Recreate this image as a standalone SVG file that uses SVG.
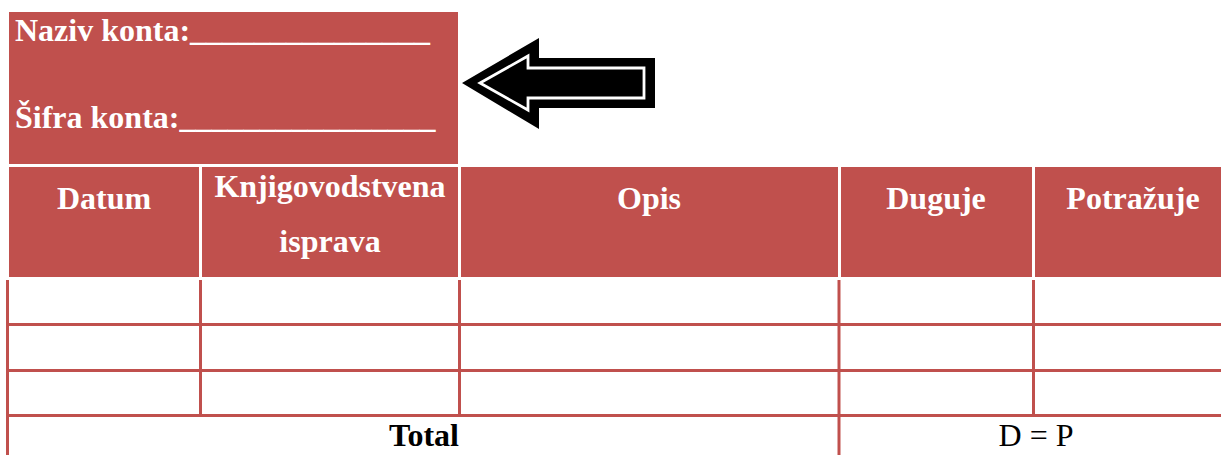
<svg xmlns="http://www.w3.org/2000/svg" width="1221" height="455" viewBox="0 0 1221 455">
  <style>
    .fill { fill: #C0504D; }
    .grid { stroke: #C0504D; stroke-width: 3; fill: none; }
    .hd { font-family: "Liberation Serif", "Times New Roman", serif; font-weight: bold; font-size: 32px; fill: #FFFFFF; }
    .hc { text-anchor: middle; }
    .bt { font-family: "Liberation Serif", "Times New Roman", serif; font-size: 32px; fill: #000000; text-anchor: middle; }
  </style>
  <rect width="1221" height="455" fill="#FFFFFF"/>

  <g id="account-box">
    <rect class="fill" x="9" y="12" width="449" height="152"/>
    <text class="hd" x="15" y="41">Naziv konta:_______________</text>
    <text class="hd" x="15" y="128">Šifra konta:________________</text>
  </g>

  <g id="connectors">
    <polygon points="462,83 539,38 539,58 655,58 655,108 539,108 539,129" fill="#000000"/>
    <polygon points="480,83 528,56 528,68 644,68 644,98 528,98 528,110" fill="#000000" stroke="#FFFFFF" stroke-width="2.8" stroke-linejoin="miter"/>
  </g>

  <g id="header-datum">
    <rect class="fill" x="9" y="167" width="190" height="110"/>
    <text class="hd hc" x="104" y="209">Datum</text>
  </g>
  <g id="header-isprava">
    <rect class="fill" x="202" y="167" width="256" height="110"/>
    <text class="hd hc" x="330" y="197">Knjigovodstvena</text>
    <text class="hd hc" x="330" y="252">isprava</text>
  </g>
  <g id="header-opis">
    <rect class="fill" x="461" y="167" width="377" height="110"/>
    <text class="hd hc" x="649" y="209">Opis</text>
  </g>
  <g id="header-duguje">
    <rect class="fill" x="841" y="167" width="191" height="110"/>
    <text class="hd hc" x="936" y="209">Duguje</text>
  </g>
  <g id="header-potrazuje">
    <rect class="fill" x="1035" y="167" width="186" height="110"/>
    <text class="hd hc" x="1133" y="209">Potražuje</text>
  </g>

  <g id="body-grid">
    <line class="grid" x1="7.5" y1="280" x2="7.5" y2="455"/>
    <line class="grid" x1="200.5" y1="280" x2="200.5" y2="415"/>
    <line class="grid" x1="459.5" y1="280" x2="459.5" y2="415"/>
    <line class="grid" x1="839" y1="280" x2="839" y2="455"/>
    <line class="grid" x1="1033.5" y1="280" x2="1033.5" y2="415"/>
    <line class="grid" x1="6" y1="324.5" x2="1221" y2="324.5"/>
    <line class="grid" x1="6" y1="370.5" x2="1221" y2="370.5"/>
    <line class="grid" x1="6" y1="415.5" x2="1221" y2="415.5"/>
  </g>

  <g id="total-row">
    <text class="bt" x="424" y="446" font-weight="bold">Total</text>
    <text class="bt" x="1036" y="446">D = P</text>
  </g>
</svg>
